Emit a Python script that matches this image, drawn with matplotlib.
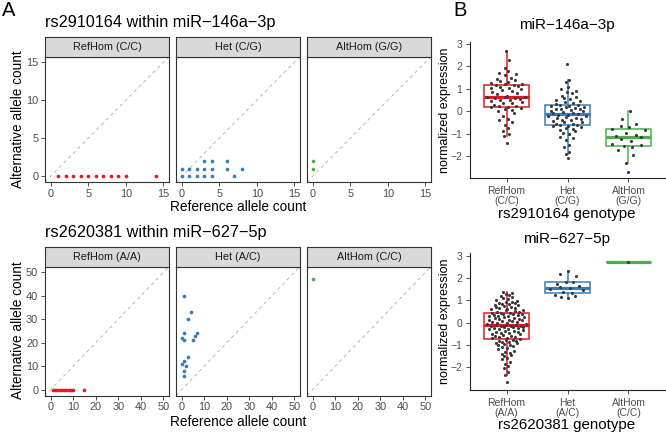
import numpy as np
import matplotlib
matplotlib.use("Agg")
import matplotlib.pyplot as plt

plt.rcParams['font.family'] = ['Liberation Sans', 'DejaVu Sans']

# ---------------- data ----------------
# Panel A (top): rs2910164 within miR-146a-3p  (ref count, alt count)
a1_titles = ["RefHom (C/C)", "Het (C/G)", "AltHom (G/G)"]
a1_ref_refhom = [1, 2, 3, 4, 5, 6, 7, 8, 9, 10, 14]
a1_alt_refhom = [0, 0, 0, 0, 0, 0, 0, 0, 0, 0, 0]
a1_ref_het = [0, 1, 2, 3, 4, 6, 8, 3, 4, 6, 0, 1, 2, 3, 4, 7]
a1_alt_het = [1, 1, 1, 1, 1, 1, 1, 2, 2, 2, 0, 0, 0, 0, 0, 0]
a1_ref_alt = [0, 0]
a1_alt_alt = [1, 2]
a1_ticks = [0, 5, 10, 15]

# Panel A (bottom): rs2620381 within miR-627-5p
a2_titles = ["RefHom (A/A)", "Het (A/C)", "AltHom (C/C)"]
a2_ref_refhom = [1, 2, 3, 4, 5, 6, 7, 8, 9, 10, 15]
a2_alt_refhom = [0, 0, 0, 0, 0, 0, 0, 0, 0, 0, 0]
a2_ref_het = [1, 4, 3, 1, 0, 1, 7, 6, 5, 3, 0, 1, 2, 1, 1]
a2_alt_het = [40, 33, 30, 24, 22, 21, 24, 23, 21, 14, 11, 12, 10, 8, 6]
a2_ref_alt = [0]
a2_alt_alt = [47]
a2_ticks = [0, 10, 20, 30, 40, 50]

# Panel B (top): miR-146a-3p normalized expression by rs2910164 genotype
b1_labels = ["RefHom\n(C/C)", "Het\n(C/G)", "AltHom\n(G/G)"]
b1_refhom = [-1.4, -1.1, -1.0, -0.9, -0.75, -0.6, -0.5, -0.4, -0.35, -0.2, -0.1, 0.0, 0.05, 0.1, 0.15,
             0.18, 0.2, 0.22, 0.25, 0.3, 0.35, 0.38, 0.4, 0.45, 0.5, 0.52, 0.55, 0.58, 0.6, 0.62,
             0.63, 0.65, 0.7, 0.75, 0.8, 0.85, 0.9, 0.95, 1.0, 1.02, 1.05, 1.1, 1.12, 1.15, 1.18,
             1.2, 1.22, 1.25, 1.3, 1.35, 1.4, 1.45, 1.5, 1.6, 1.65, 1.7, 1.8, 1.95, 2.3, 2.7]
b1_het = [-2.1, -1.9, -1.8, -1.6, -1.5, -1.3, -1.2, -1.15, -1.0, -0.95, -0.9, -0.85, -0.8, -0.75, -0.7, -0.68, -0.66,
          -0.62, -0.6, -0.58, -0.55, -0.5, -0.48, -0.45, -0.4, -0.38, -0.35, -0.3, -0.28, -0.25, -0.22, -0.2, -0.18, -0.15,
          -0.13, -0.1, -0.08, -0.05, 0.0, 0.02, 0.05, 0.08, 0.1, 0.12, 0.15, 0.18, 0.2, 0.22, 0.25, 0.27, 0.29,
          0.32, 0.35, 0.4, 0.45, 0.5, 0.55, 0.6, 0.65, 0.7, 0.8, 0.85, 0.9, 1.0, 1.1, 1.3, 1.4, 2.1]
b1_althom = [-2.7, -2.3, -1.95, -1.75, -1.6, -1.55, -1.52, -1.45, -1.35, -1.25, -1.17, -1.1, -1.05,
             -0.95, -0.85, -0.8, -0.72, -0.68, -0.55, -0.35, 0.0]

# Panel B (bottom): miR-627-5p normalized expression by rs2620381 genotype
b2_labels = ["RefHom\n(A/A)", "Het\n(A/C)", "AltHom\n(C/C)"]
b2_refhom = [-2.68, -2.34, -2.2, -2.05, -1.95, -1.85, -1.75, -1.65, -1.6, -1.5, -1.45, -1.4, -1.35, -1.3, -1.25,
             -1.2, -1.15, -1.1, -1.05, -1.0, -0.98, -0.95, -0.92, -0.9, -0.88, -0.85, -0.82, -0.8, -0.78, -0.76,
             -0.73, -0.7, -0.68, -0.65, -0.62, -0.6, -0.58, -0.55, -0.52, -0.5, -0.48, -0.45, -0.42, -0.4, -0.38,
             -0.35, -0.33, -0.3, -0.28, -0.26, -0.24, -0.22, -0.2, -0.19, -0.17, -0.16, -0.15, -0.14, -0.13, -0.12,
             -0.1, -0.08, -0.06, -0.04, -0.02, 0.0, 0.02, 0.04, 0.06, 0.08, 0.1, 0.12, 0.14, 0.16, 0.18,
             0.2, 0.22, 0.24, 0.26, 0.28, 0.3, 0.32, 0.34, 0.36, 0.38, 0.4, 0.41, 0.42, 0.44, 0.45,
             0.47, 0.5, 0.52, 0.55, 0.58, 0.6, 0.62, 0.65, 0.68, 0.7, 0.72, 0.75, 0.78, 0.8, 0.82,
             0.85, 0.88, 0.9, 0.92, 0.95, 0.98, 1.0, 1.05, 1.1, 1.15, 1.2, 1.25, 1.3, 1.35, 1.4]
b2_het = [1.1, 1.15, 1.2, 1.25, 1.35, 1.4, 1.45, 1.5, 1.58, 1.6, 1.65, 1.75, 1.82, 1.85, 2.1, 2.2, 2.3]
b2_althom = [2.72]

# ---------------- style ----------------
RED, BLUE, GREEN = '#E41A1C', '#377EB8', '#4DAF4A'
COLS = [RED, BLUE, GREEN]
TXT = '#4D4D4D'
DARK = '#333333'

W, H = 666, 433
fig = plt.figure(figsize=(W / 100, H / 100), dpi=100)


def add_ax(l, t, r, b):
    return fig.add_axes([l / W, 1 - b / H, (r - l) / W, (b - t) / H])


def ftext(x, y, s, **kw):
    return fig.text(x / W, 1 - y / H, s, **kw)


def facet_row(strip_top, top, bottom, lim, ticks, titles, data):
    lefts = [45, 176, 307]
    width = 124
    for i, (l, title, (xs, ys), col) in enumerate(zip(lefts, titles, data, COLS)):
        ax = add_ax(l, top, l + width, bottom)
        ax.plot(lim, lim, ls=(0, (4, 4)), color='#ABABAB', lw=0.6, zorder=1)
        ax.scatter(xs, ys, s=7, color=col, lw=0, zorder=3)
        ax.set_xlim(lim)
        ax.set_ylim(lim)
        ax.set_xticks(ticks)
        ax.set_yticks(ticks)
        ax.tick_params(length=3, width=0.6, color=DARK, labelsize=7.9, labelcolor=TXT, pad=1.8)
        if i > 0:
            ax.set_yticklabels([])
            ax.tick_params(axis='y', length=0)
        for sp in ax.spines.values():
            sp.set_color(DARK)
            sp.set_linewidth(0.8)
        sax = add_ax(l, strip_top, l + width, top)
        sax.set_facecolor('#D9D9D9')
        sax.set_xticks([])
        sax.set_yticks([])
        for sp in sax.spines.values():
            sp.set_color(DARK)
            sp.set_linewidth(0.8)
        sax.text(0.5, 0.47, title, ha='center', va='center', fontsize=7.8, color='#1A1A1A',
                 transform=sax.transAxes)


def vdc(n):
    out = []
    for i in range(n):
        v, denom, k = 0.0, 1.0, i + 1
        while k:
            denom *= 2
            k, rem = divmod(k, 2)
            v += rem / denom
        out.append(v)
    return np.array(out)


def quasi_offsets(vals, halfw=0.33):
    v = np.asarray(vals, float)
    n = len(v)
    if n < 2:
        return np.zeros(n)
    bw = 1.06 * v.std() * n ** (-0.2)
    dens = np.exp(-0.5 * ((v[:, None] - v[None, :]) / bw) ** 2).sum(1)
    dens = dens / dens.max()
    order = np.argsort(v)
    q = vdc(n)
    off = np.zeros(n)
    off[order] = (q - 0.5) * 2 * halfw * dens[order]
    return off


def box_panel(top, bottom, groups, labels, ylim):
    ax = add_ax(470, top, 665, bottom)
    for i, (vals, col) in enumerate(zip(groups, COLS)):
        ax.boxplot(vals, positions=[i + 1], widths=0.75, patch_artist=True, showfliers=False,
                   showcaps=False, whis=1.5,
                   medianprops=dict(color=col, lw=2.3, solid_capstyle='butt'),
                   boxprops=dict(edgecolor=col, facecolor='white', lw=1.1),
                   whiskerprops=dict(color=col, lw=1.1), zorder=2)
        off = quasi_offsets(vals)
        ax.scatter(i + 1 + off, vals, s=5, color='#3A3A3A', lw=0, zorder=4)
    ax.set_xlim(0.4, 3.6)
    ax.set_ylim(*ylim)
    ax.set_yticks([-2, -1, 0, 1, 2, 3])
    ax.set_xticks([1, 2, 3])
    ax.set_xticklabels(labels, linespacing=0.95)
    ax.tick_params(length=3, width=0.6, color=DARK, labelsize=7.5, labelcolor=TXT)
    ax.tick_params(axis='x', pad=3)
    ax.tick_params(axis='y', pad=2.5)
    for s in ['top', 'right']:
        ax.spines[s].set_visible(False)
    for s in ['left', 'bottom']:
        ax.spines[s].set_color('#222222')
        ax.spines[s].set_linewidth(0.8)
    return ax


# ---- Panel A ----
ftext(2, 1, "A", fontsize=14.5, va='top', ha='left', color='black')
ftext(45, 27, "rs2910164 within miR\u2212146a\u22123p", fontsize=11.7, ha='left', va='baseline')
facet_row(37, 56.5, 182, [-0.75, 15.75], a1_ticks, a1_titles,
          [(a1_ref_refhom, a1_alt_refhom), (a1_ref_het, a1_alt_het), (a1_ref_alt, a1_alt_alt)])
ftext(238, 211, "Reference allele count", fontsize=9.8, ha='center', va='baseline')
ftext(18, 119, "Alternative allele count", fontsize=9.8, ha='center', va='center', rotation=90)

ftext(45, 236.5, "rs2620381 within miR\u2212627\u22125p", fontsize=11.7, ha='left', va='baseline')
facet_row(247, 266.5, 395.5, [-2.5, 52.5], a2_ticks, a2_titles,
          [(a2_ref_refhom, a2_alt_refhom), (a2_ref_het, a2_alt_het), (a2_ref_alt, a2_alt_alt)])
ftext(238, 425.5, "Reference allele count", fontsize=9.8, ha='center', va='baseline')
ftext(18, 330, "Alternative allele count", fontsize=9.8, ha='center', va='center', rotation=90)

# ---- Panel B ----
ftext(453, 1, "B", fontsize=14.5, va='top', ha='left', color='black')
ftext(567, 29, "miR\u2212146a\u22123p", fontsize=11, ha='center', va='baseline')
box_panel(42, 178, [b1_refhom, b1_het, b1_althom], b1_labels, (-2.98, 3.09))
ftext(567, 218, "rs2910164 genotype", fontsize=10.8, ha='center', va='baseline')
ftext(445, 110, "normalized expression", fontsize=9, ha='center', va='center', rotation=90)

ftext(567, 243, "miR\u2212627\u22125p", fontsize=11, ha='center', va='baseline')
box_panel(253, 390, [b2_refhom, b2_het, b2_althom], b2_labels, (-3.02, 3.13))
ftext(567, 428.5, "rs2620381 genotype", fontsize=10.8, ha='center', va='baseline')
ftext(445, 321.5, "normalized expression", fontsize=9, ha='center', va='center', rotation=90)

fig.savefig("out.png", dpi=100)
